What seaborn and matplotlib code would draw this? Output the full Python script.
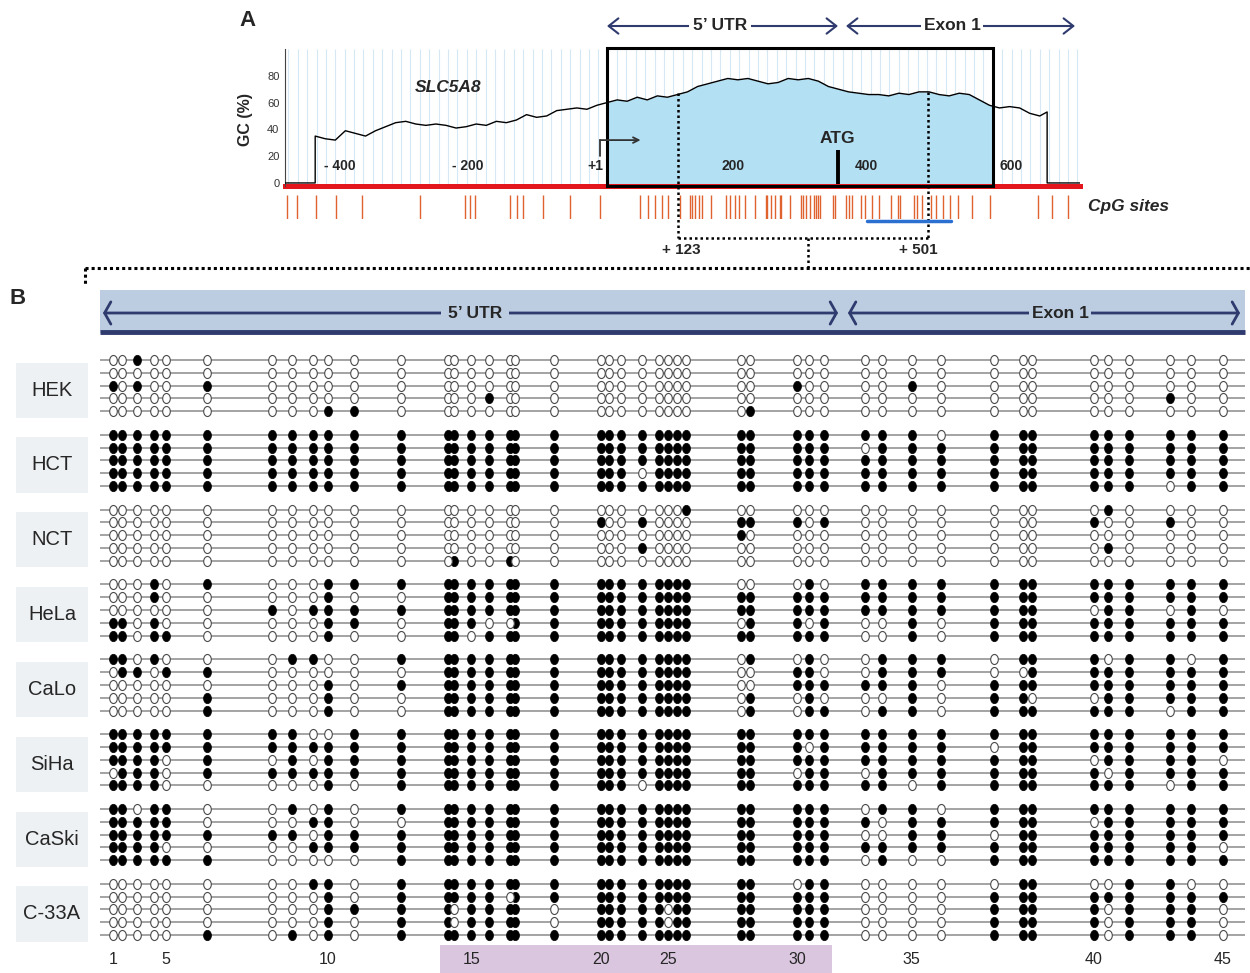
import matplotlib
matplotlib.use("Agg")
import matplotlib.pyplot as plt
from matplotlib.markers import MarkerStyle
from matplotlib.patches import Rectangle
from matplotlib.transforms import Affine2D
import numpy as np
import pandas as pd
import seaborn as sns

# ---------------- panel A data ----------------
# GC content (%) along the SLC5A8 region, bp relative to transcription start
gc_pos = [-480, -435, -435, -420, -405, -390, -375, -360, -345, -330, -315, -300,
          -285, -270, -255, -240, -225, -210, -195, -180, -165, -150, -135, -120,
          -105, -90, -75, -60, -45, -30, -15, 0, 15, 30, 45, 60, 75, 90, 105, 120,
          135, 150, 165, 180, 195, 210, 225, 240, 255, 270, 285, 300, 315, 330,
          345, 360, 375, 390, 405, 420, 435, 450, 465, 480, 495, 510, 525, 540,
          555, 570, 585, 600, 615, 630, 645, 656, 656, 705]
gc_val = [0, 0, 35, 33, 32, 39, 37, 35, 39, 42, 45, 46,
          44, 43, 44, 43, 41, 42, 44, 43, 46, 45, 47, 51,
          49, 50, 54, 55, 56, 55, 58, 60, 62, 61, 64, 62, 65, 64, 66, 68,
          72, 74, 76, 78, 77, 78, 76, 74, 75, 78, 77, 78, 76, 72,
          70, 68, 67, 66, 66, 65, 67, 66, 68, 68, 66, 65, 67, 66,
          62, 58, 56, 57, 56, 52, 50, 53, 0, 0]

# CpG sites outside the bisulfite-sequenced window (bp)
cpg_outside = [-477, -462, -434, -404, -365, -279, -212, -204, -197, -145, -134,
               -125, -95, -55, -10, 49, 61, 72, 82, 91, 109, 511, 523, 544, 571,
               642, 663, 687]

axis_lab_pos = [-398, -207, -18, 188, 386, 602]
axis_lab_txt = ["- 400", "- 200", "+1", "200", "400", "600"]
atg_pos = 344

# ---------------- panel B data ----------------
# the 45 CpG sites between +123 and +501 (bp)
site_bp = [123, 126, 131, 137, 141, 155, 177, 184, 191, 196, 205, 221, 237, 239,
           245, 251, 258, 260, 273, 289, 292, 296, 303, 309, 312, 315, 318, 337,
           340, 356, 360, 365, 379, 385, 395, 405, 423, 433, 436, 457, 462, 469,
           483, 490, 501]
site_labels = [1, 5, 10, 15, 20, 25, 30, 35, 40, 45]

cell_lines = ["HEK", "HCT", "NCT", "HeLa", "CaLo", "SiHa", "CaSki", "C-33A"]

# 1 = methylated (filled), 0 = unmethylated (open); 5 clones per cell line
hek = ["00100 0 00000 0 000000 0 0000 0000 00 000 0000 0 00 000 000",
       "00000 0 00000 0 000000 0 0000 0000 00 000 0000 0 00 000 000",
       "10100 1 00000 0 000000 0 0000 0000 00 100 0010 0 00 000 000",
       "00000 0 00000 0 000100 0 0000 0000 00 000 0000 0 00 000 100",
       "00000 0 00011 0 000000 0 0000 0000 01 000 0000 0 00 000 000"]
hct = ["11111 1 11111 1 111111 1 1111 1111 11 111 1110 1 11 111 111",
       "11111 1 11111 1 111111 1 1111 1111 11 111 0111 1 11 111 111",
       "11111 1 11111 1 111111 1 1111 1111 11 111 1111 1 11 111 111",
       "11111 1 11111 1 111111 1 1110 1111 11 111 1111 1 11 111 111",
       "11111 1 11111 1 111111 1 1111 1111 11 111 1111 1 11 111 011"]
nct = ["00000 0 00000 0 000000 0 0000 0001 00 000 0000 0 00 010 000",
       "00000 0 00000 0 000000 0 1001 0000 11 101 0000 0 00 100 100",
       "00000 0 00000 0 000000 0 0000 0000 10 000 0000 0 00 000 000",
       "00000 0 00000 0 000000 0 0001 0000 00 000 0000 0 00 010 000",
       "00000 0 00000 0 010010 0 0000 0000 00 000 0000 0 00 000 000"]
hela = ["00010 1 00011 1 111111 1 1111 1111 00 010 1111 1 11 111 111",
        "00010 0 00010 0 111111 1 1111 1111 11 111 1111 1 11 111 111",
        "00000 0 10111 1 111111 1 1111 1111 11 111 1111 1 11 011 010",
        "11010 0 00011 0 111001 1 1111 1111 01 101 0010 1 11 111 111",
        "11011 0 00010 0 110111 1 1111 1111 11 111 0010 1 11 111 111"]
calo = ["11010 0 01100 1 111111 1 1111 1111 01 010 0111 0 11 101 101",
        "01101 1 00000 0 111111 1 1111 1111 00 110 0111 0 01 111 111",
        "00000 0 00010 1 111111 1 1111 1111 00 111 1110 1 11 111 111",
        "00000 1 00010 0 111111 1 1111 1111 01 010 0010 1 10 011 111",
        "00000 1 00010 0 111111 1 1111 1111 01 011 0110 1 11 111 011"]
siha = ["11111 1 11001 1 111111 1 1111 1111 11 111 1111 1 11 111 111",
        "11111 1 11111 1 111111 1 1111 1111 11 101 1111 0 11 111 111",
        "11110 1 01011 1 111111 1 1111 1111 11 111 1111 1 11 011 110",
        "01110 1 11111 1 111111 1 1111 1111 11 011 0111 1 11 101 111",
        "11110 0 00010 1 111111 1 1110 1111 11 111 1101 1 11 111 011"]
caski = ["11011 0 01010 1 111111 1 1111 1111 11 111 0110 1 11 111 111",
         "11111 0 00110 0 111111 1 1111 1111 11 111 1011 1 11 011 111",
         "11111 1 11011 1 111111 1 1111 1111 11 111 0011 0 11 111 111",
         "11110 0 00111 1 111111 1 1111 1111 11 111 1111 1 11 111 110",
         "11111 1 00000 1 111111 1 1111 1111 11 111 0100 1 11 111 111"]
c33a = ["00000 0 00110 1 111111 1 1111 1111 11 011 0000 0 11 001 100",
        "00000 0 00010 1 111101 1 1111 1111 11 111 0000 1 11 111 111",
        "00000 0 00011 1 101111 0 1111 1011 11 111 0000 1 11 101 110",
        "00000 0 00010 1 101111 0 1111 1011 11 111 0000 1 11 101 110",
        "00000 1 01010 1 111111 1 1111 1111 11 111 0000 1 11 101 110"]
meth = [hek, hct, nct, hela, calo, siha, caski, c33a]

BLOCK = 5.83  # vertical distance between cell-line blocks (in clone rows)

records = []
for b, (name, clones) in enumerate(zip(cell_lines, meth)):
    for c, s in enumerate(clones):
        s = s.replace(" ", "")
        for k, ch in enumerate(s):
            records.append((name, c, site_bp[k], b * BLOCK + c, ch == "1"))
df = pd.DataFrame(records, columns=["line", "clone", "bp", "row", "methylated"])

# ---------------- figure ----------------
sns.set_style("white")
plt.rcParams["font.family"] = ["Liberation Sans", "DejaVu Sans"]

W, H = 1250, 973
fig = plt.figure(figsize=(W / 100, H / 100), dpi=100)


def px_axes(x0, y0, x1, y1, **kw):
    return fig.add_axes([x0 / W, 1 - y1 / H, (x1 - x0) / W, (y1 - y0) / H], **kw)


navy = "#2f3b6e"

# ---- panel A: GC plot
ax_gc = px_axes(285, 49, 1080, 191)
ax_gc.set_xlim(-480, 705)
ax_gc.set_ylim(-6, 100)
ax_gc.vlines(np.arange(-475, 705, 14), -2.2, 100, color="#d6e8f4", lw=0.8, zorder=0)

box = Rectangle((0, -2.2), 575, 103.3, fill=False, lw=2.2, ec="black",
                zorder=4, clip_on=False)
ax_gc.add_patch(box)
fill = ax_gc.fill_between(gc_pos, -2.2, gc_val, color="#b4e0f3", lw=0, zorder=1)
fill.set_clip_path(box)
sns.lineplot(x=gc_pos, y=gc_val, ax=ax_gc, color="black", lw=1.0,
             estimator=None, sort=False, zorder=3)

for spine in ["top", "right"]:
    ax_gc.spines[spine].set_visible(False)
ax_gc.spines["bottom"].set_position(("data", -2.2))
ax_gc.spines["bottom"].set_color("#e3161e")
ax_gc.spines["bottom"].set_linewidth(3.6)
ax_gc.spines["bottom"].set_zorder(2)
ax_gc.spines["left"].set_color("#444444")
ax_gc.spines["left"].set_linewidth(0.8)
ax_gc.spines["left"].set_bounds(-2.2, 100)
ax_gc.set_xticks(np.arange(-450, 701, 50))
ax_gc.tick_params(axis="x", direction="in", length=6, width=1.2, colors="#e3161e",
                  labelbottom=False)
ax_gc.set_yticks([0, 20, 40, 60, 80])
ax_gc.set_yticks(np.arange(10, 100, 10), minor=True)
ax_gc.tick_params(axis="y", which="major", length=3, width=0.8, labelsize=8,
                  colors="#333333", pad=1)
ax_gc.tick_params(axis="y", which="minor", length=2, width=0.6, colors="#444444")
ax_gc.set_ylabel("GC (%)", fontsize=11.5, fontweight="bold", labelpad=10)

for p, t in zip(axis_lab_pos, axis_lab_txt):
    ax_gc.text(p, 12.5, t, ha="center", va="center", fontsize=10,
               fontweight="bold", zorder=5)
ax_gc.vlines(atg_pos, -1, 24.6, color="black", lw=2.8, zorder=5)
ax_gc.text(atg_pos, 33, "ATG", ha="center", va="center", fontsize=12.5,
           fontweight="bold", zorder=5)
ax_gc.text(-237, 71, "SLC5A8", ha="center", va="center", fontsize=12.5,
           fontweight="bold", fontstyle="italic")
ax_gc.plot([-10, -10], [20, 32], color="#333333", lw=1.3, zorder=5)
ax_gc.annotate("", xy=(50, 32), xytext=(-10.5, 32),
               arrowprops=dict(arrowstyle="->", color="#333333", lw=1.3,
                               shrinkA=0, shrinkB=0), zorder=5)

# ---- panel A: CpG sites
ax_cpg = px_axes(285, 195, 1080, 219, sharex=ax_gc)
ax_cpg.vlines(cpg_outside + site_bp, 0, 1, color="#e0622e", lw=1.0)
ax_cpg.set_ylim(0, 1)
ax_cpg.axis("off")

# ---- panel B: lollipops
ax_b = px_axes(100, 351, 1245, 944)
ax_b.set_xlim(118.5, 508.5)
row_y = sorted(df["row"].unique())
ax_b.hlines(row_y, 118.5, 508.5, color="#8a8a8a", lw=1.1, zorder=1)
ell = MarkerStyle("o", transform=Affine2D().scale(0.76, 1.0))
sns.scatterplot(data=df[df["methylated"]], x="bp", y="row", ax=ax_b, marker=ell,
                s=56, color="black", edgecolor="black", linewidth=0.5, zorder=3)
sns.scatterplot(data=df[~df["methylated"]], x="bp", y="row", ax=ax_b, marker=ell,
                s=52, color="white", edgecolor="#4a4a4a", linewidth=0.8, zorder=3)
ax_b.set_ylim(45.5, -0.7)
ax_b.axis("off")

# cell line labels
ax_lab = px_axes(0, 351, 100, 944, sharey=ax_b)
ax_lab.set_xlim(0, 100)
for b, name in enumerate(cell_lines):
    yc = b * BLOCK + 2.35
    ax_lab.add_patch(Rectangle((16, yc - 2.15), 72, 4.3, fc="#edf1f3", ec="none"))
    ax_lab.text(52, yc, name, ha="center", va="center", fontsize=14.5)
ax_lab.axis("off")

# site numbers
ax_num = px_axes(100, 945, 1245, 973, sharex=ax_b)
ax_num.set_ylim(0, 1)
ax_num.axvspan(234.3, 367.8, color="#dbc6e0", lw=0)
for n in site_labels:
    ax_num.text(site_bp[n - 1], 0.48, str(n), ha="center", va="center", fontsize=11.5)
ax_num.axis("off")

# ---- overlay in pixel coordinates for annotations
ov = fig.add_axes([0, 0, 1, 1], zorder=10)
ov.set_xlim(0, W)
ov.set_ylim(H, 0)
ov.axis("off")
ov.patch.set_visible(False)

ov.text(247, 20, "A", ha="center", va="center", fontsize=16, fontweight="bold")
ov.text(18, 298, "B", ha="center", va="center", fontsize=16, fontweight="bold")


def span_arrow(x0, x1, y, lw, hw, hl):
    ov.annotate("", xy=(x0, y), xytext=(x1, y),
                arrowprops=dict(arrowstyle=f"<->, head_length={hl}, head_width={hw}",
                                color=navy, lw=lw, shrinkA=0, shrinkB=0))


span_arrow(607, 838, 26, 1.5, 0.55, 0.7)
span_arrow(846, 1075, 26, 1.5, 0.55, 0.7)
ov.text(720, 26, "5\u2019 UTR", ha="center", va="center", fontsize=12.5,
        fontweight="bold", bbox=dict(fc="white", ec="none", pad=3))
ov.text(952, 26, "Exon 1", ha="center", va="center", fontsize=12.5,
        fontweight="bold", bbox=dict(fc="white", ec="none", pad=2))

dot = dict(color="black", ls=(0, (1, 1.2)), lw=1.8)
ov.plot([678, 678], [93, 238], **dot)
ov.plot([928, 928], [92, 238], **dot)
ov.plot([678, 928], [238, 238], **dot)
ov.plot([808, 808], [238, 268], **dot)
ov.plot([85, 1250], [268, 268], color="black", ls=(0, (1, 1)), lw=2.2)
ov.plot([85, 85], [268, 286], color="black", ls=(0, (1, 1)), lw=2.2)
ov.text(681, 250, "+ 123", ha="center", va="center", fontsize=11, fontweight="bold")
ov.text(918, 250, "+ 501", ha="center", va="center", fontsize=11, fontweight="bold")
ov.plot([867, 951], [221, 221], color="#2b6fd0", lw=2.5)
ov.text(1088, 207, "CpG sites", ha="left", va="center", fontsize=12.5,
        fontweight="bold", fontstyle="italic")

hdr_bg = "#bccde1"
ov.add_patch(Rectangle((100, 290), 1145, 43, fc=hdr_bg, ec="none"))
ov.plot([100, 1245], [332, 332], color=navy, lw=3.5, solid_capstyle="butt")
span_arrow(103, 838, 313, 2.0, 0.8, 0.45)
span_arrow(848, 1240, 313, 2.0, 0.8, 0.45)
ov.text(475, 313, "5\u2019 UTR", ha="center", va="center", fontsize=12.5,
        fontweight="bold", bbox=dict(fc=hdr_bg, ec="none", pad=5))
ov.text(1060, 313, "Exon 1", ha="center", va="center", fontsize=12.5,
        fontweight="bold", bbox=dict(fc=hdr_bg, ec="none", pad=2))

fig.savefig("out.png", dpi=100)
